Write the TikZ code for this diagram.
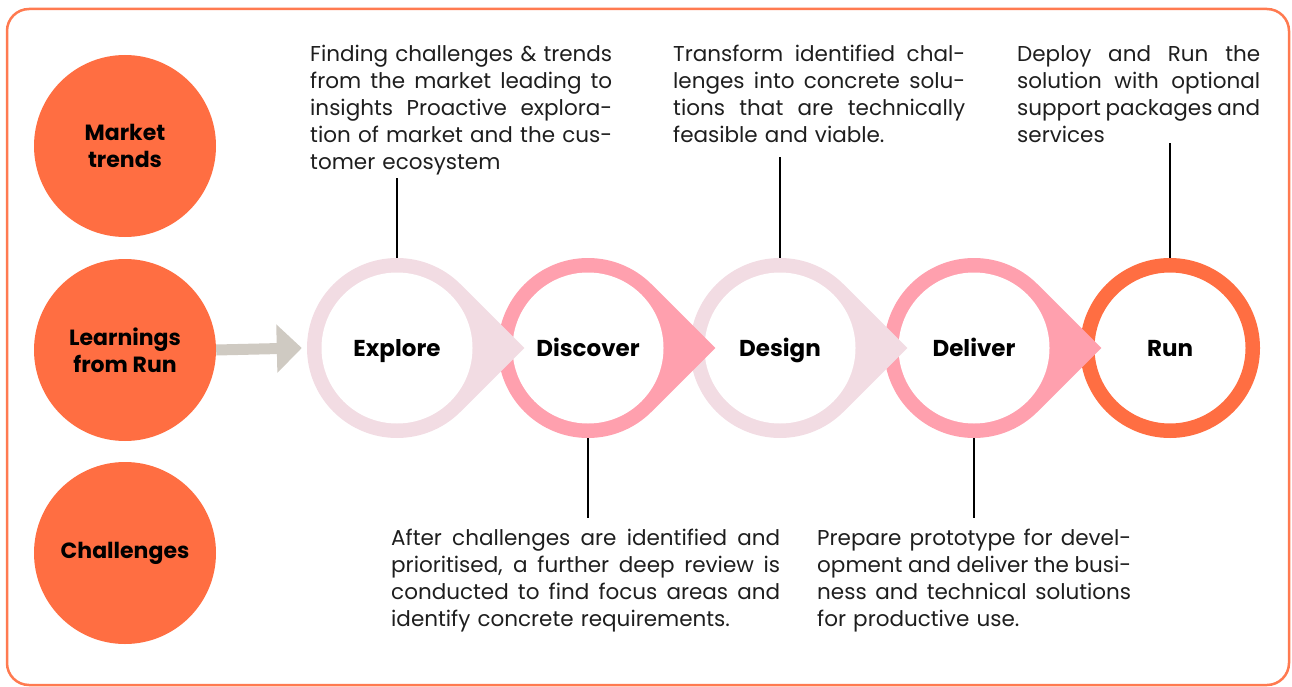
\documentclass[tikz,border=0pt]{standalone}
\usepackage{fontspec}
\setmainfont{Poppins}
\usetikzlibrary{arrows.meta,calc}
\definecolor{orangeM}{HTML}{FF6E42}
\definecolor{frameC}{HTML}{FF7A50}
\definecolor{pinkL}{HTML}{F2DCE3}
\definecolor{pinkD}{HTML}{FFA0AE}
\definecolor{grayA}{HTML}{CFCAC2}
\definecolor{txt}{HTML}{1E1E1E}
\newcommand\teardrop[2]{%
  \fill[#2] ($(#1)+(45:90pt)$) arc[start angle=45,end angle=315,radius=90pt]
    -- ($(#1)+(127.3pt,0pt)$) -- cycle;
  \fill[white] (#1) circle[radius=75.5pt];}
\newlength\jw
\newcommand\jl[1]{\makebox[\jw][s]{\spaceskip=0.27em plus 1em minus 0.1em\xspaceskip=0pt #1}\\}
\begin{document}
\begin{tikzpicture}[x=1pt,y=-1pt,
  body/.style={font=\fontsize{21.5}{27}\selectfont, text=txt, inner sep=0pt, anchor=north west, align=left, text width=#1, execute at begin node={\setlength{\jw}{#1}}},
  side/.style={circle, fill=orangeM, minimum size=182pt, inner sep=0pt, align=center, font=\fontsize{22}{27}\selectfont\bfseries},
  stage/.style={circle, minimum size=180pt, inner sep=0pt, text height=16pt, text depth=0pt, font=\fontsize{23}{27}\selectfont\bfseries},
  conn/.style={line width=2.5pt, draw=black}]
\useasboundingbox (0,0) rectangle (1292,687);
\draw[frameC, line width=2.5pt, rounded corners=22pt] (7,9) rectangle (1289,685);
% stage centres
\coordinate (cE) at (397,348);
\coordinate (cDi) at (588,348);
\coordinate (cDe) at (780,348);
\coordinate (cDl) at (974,348);
\coordinate (cR) at (1170,348);
% shapes, right to left so that each tip lies on the next circle
\draw[orangeM, line width=14.5pt] (cR) circle[radius=82.75pt];
\teardrop{cDl}{pinkD}
\teardrop{cDe}{pinkL}
\teardrop{cDi}{pinkD}
\teardrop{cE}{pinkL}
% stage nodes
\node[stage] (explore) at (cE) {Explore};
\node[stage] (discover) at (cDi) {Discover};
\node[stage] (design) at (cDe) {Design};
\node[stage] (deliver) at (cDl) {Deliver};
\node[stage] (run) at (cR) {Run};
% left circles
\node[side] (market) at (125,146) {Market\\trends};
\node[side] (learn) at (125,350) {Learnings\\from Run};
\node[side] (chall) at (125,553) {Challenges};
% arrow
\draw[grayA, line width=11pt, -{Triangle[length=25pt,width=47pt]}] (learn.east) -- ([xshift=-5pt]explore.west);
% texts
\node[body=302pt] (t1) at (310,45) {\jl{Finding challenges \& trends}\jl{from the market leading to}\jl{insights Proactive explora-}\jl{tion of market and the cus-}tomer ecosystem};
\node[body=292pt] (t2) at (673,45) {\jl{Transform identified chal-}\jl{lenges into concrete solu-}\jl{tions that are technically}feasible and viable.};
\node[body=243pt] (t3) at (1017,45) {\jl{Deploy and Run the}\jl{solution with optional}\jl{support packages and}services};
\node[body=389pt] (t4) at (391,529) {\jl{After challenges are identified and}\jl{prioritised, a further deep review is}\jl{conducted to find focus areas and}identify concrete requirements.};
\node[body=314pt] (t5) at (817,529) {\jl{Prepare prototype for devel-}\jl{opment and deliver the busi-}\jl{ness and technical solutions}for productive use.};
% connectors
\draw[conn] (explore.north) -- (explore.north |- 0,178);
\draw[conn] (design.north) -- (design.north |- 0,157);
\draw[conn] (run.north) -- (run.north |- 0,143);
\draw[conn] (discover.south) -- (discover.south |- 0,518);
\draw[conn] (deliver.south) -- (deliver.south |- 0,518);
\end{tikzpicture}
\end{document}
